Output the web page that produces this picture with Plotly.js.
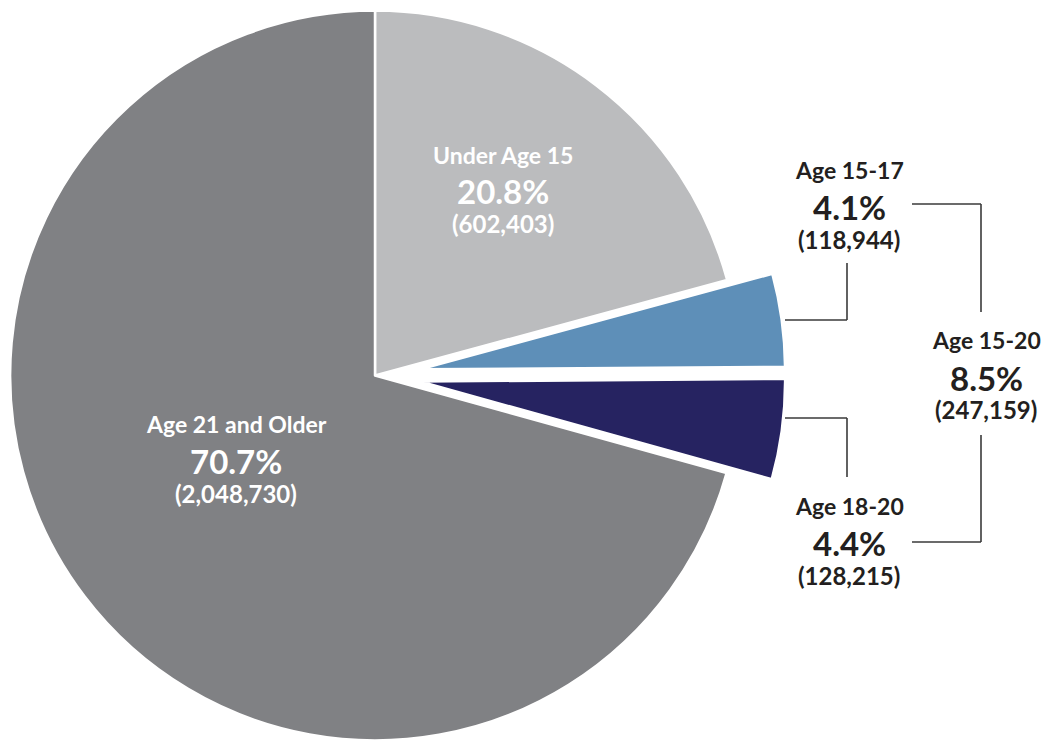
<!DOCTYPE html>
<html>
<head>
<meta charset="utf-8">
<script src="https://cdn.plot.ly/plotly-3.0.1.min.js"></script>
<style>
  html, body { margin:0; padding:0; overflow:hidden; background:#fff; width:1047px; height:740px; }
  #chart { position:absolute; left:-40px; top:-35px; }
</style>
</head>
<body>
<div id="chart"></div>
<script>
// ---- data ----
const categories = ['Under Age 15', 'Age 15-17', 'Age 18-20', 'Age 21 and Older'];
const counts = [602403, 118944, 128215, 2048730];
const percentLabels = ['20.8%', '4.1%', '4.4%', '70.7%'];
const countLabels = ['(602,403)', '(118,944)', '(128,215)', '(2,048,730)'];
const groupName = 'Age 15-20';
const groupPercent = '8.5%';
const groupCount = '(247,159)';
const sliceColors = ['#BBBCBE', '#5E8FB8', '#262361', '#808184'];
const slicePull = [0, 0.125, 0.125, 0];

// ---- geometry of the (oversized) plotting div ----
const L = 40, T = 35, W = 1047 + L, H = 821;
const px = x => (x + L) / W;
const py = y => 1 - (y + T) / H;

const FONT = 'Lato, "Open Sans", sans-serif';
const dark = '#231F20';
const S_CAT = 23, S_PCT = 33, S_CNT = 24;

function label(x, y, text, size, color) {
  return { xref:'paper', yref:'paper', x:px(x), y:py(y), text:text, showarrow:false,
           xanchor:'center', yanchor:'middle',
           font:{ family:FONT, size:size, color:color, weight:700 } };
}

const annotations = [
  label(503, 155, categories[0], S_CAT, '#ffffff'),
  label(503, 191, percentLabels[0], S_PCT, '#ffffff'),
  label(503, 223, countLabels[0], S_CNT, '#ffffff'),

  label(236, 424, categories[3], S_CAT, '#ffffff'),
  label(236, 461, percentLabels[3], S_PCT, '#ffffff'),
  label(236, 493, countLabels[3], S_CNT, '#ffffff'),

  label(849, 170, categories[1], S_CAT, dark),
  label(849, 207, percentLabels[1], S_PCT, dark),
  label(849, 239, countLabels[1], S_CNT, dark),

  label(849, 506, categories[2], S_CAT, dark),
  label(849, 543, percentLabels[2], S_PCT, dark),
  label(849, 575, countLabels[2], S_CNT, dark),

  label(986, 340, groupName, S_CAT, dark),
  label(986, 378, groupPercent, S_PCT, dark),
  label(986, 409, groupCount, S_CNT, dark)
];

function seg(x0, y0, x1, y1) {
  return { type:'line', xref:'paper', yref:'paper', x0:px(x0), y0:py(y0), x1:px(x1), y1:py(y1),
           line:{ color:'#3a3a3a', width:1.6 } };
}
const shapes = [
  // 15-17 connector
  seg(785, 320, 847, 320), seg(847, 320, 847, 263),
  // 18-20 connector
  seg(785, 418, 847, 418), seg(847, 418, 847, 477),
  // bracket
  seg(912, 204, 981, 204), seg(981, 204, 981, 312),
  seg(981, 435, 981, 542), seg(912, 542, 981, 542)
];

const trace = {
  type:'pie',
  labels: categories,
  values: counts,
  sort:false,
  direction:'clockwise',
  rotation:0,
  pull: slicePull,
  textinfo:'none',
  hoverinfo:'label+percent',
  marker:{ colors: sliceColors, line:{ color:'#ffffff', width:2.5 } },
  domain:{ x:[0, 830 / W], y:[0, 1] },
  showlegend:false
};

Plotly.newPlot('chart', [trace], {
  width: W, height: H,
  margin:{ l:0, r:0, t:0, b:0 },
  paper_bgcolor:'#ffffff',
  showlegend:false,
  annotations: annotations,
  shapes: shapes
}, { displayModeBar:false, staticPlot:true });
</script>
</body>
</html>
